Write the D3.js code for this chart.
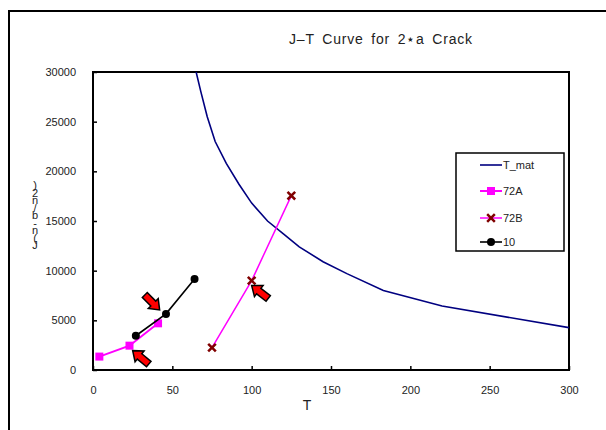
<!DOCTYPE html>
<html>
<head>
<meta charset="utf-8">
<script src="https://cdn.jsdelivr.net/npm/d3@7"></script>
<style>
    body { margin: 0; background: #fff; }
    svg { display: block; font-family: "Liberation Sans", Arial, sans-serif; }
    .axis-label { font-size: 11px; fill: #222; }
</style>
</head>
<body>
<script>
// T_mat material curve
const tmatT = [65, 68, 72, 77, 84, 92, 100, 110, 120, 130, 145, 160, 183, 220, 300];
const tmatJ = [30000, 28000, 25500, 23000, 20800, 18700, 16800, 15000, 13700, 12400, 10900, 9700, 8000, 6450, 4260];

const s72aT = [4, 23, 41];
const s72aJ = [1350, 2450, 4700];

const s72bT = [75, 100, 125];
const s72bJ = [2250, 9000, 17550];

const s10T = [27, 46, 64];
const s10J = [3450, 5650, 9150];

const xTicks = [0, 50, 100, 150, 200, 250, 300];
const yTicks = [0, 5000, 10000, 15000, 20000, 25000, 30000];

// red block arrows: tip position (T, J) and direction in degrees
const arrowT = [42, 25, 100];
const arrowJ = [6050, 1950, 8500];
const arrowAngle = [45, -140, -142];

// y title as it shows in the original: glyphs stacked top to bottom
const yLabel = ")2n/b-n(J";

const zip = (a, b) => a.map((v, i) => [v, b[i]]);

const width = 606, height = 430;
let svg = d3.select("body").append("svg")
    .attr("width", width)
    .attr("height", height);

// outer chart frame (runs off the right and bottom edge)
svg.append("path")
    .attr("d", "M9," + height + "V11H" + width)
    .attr("fill", "none")
    .attr("stroke", "#000")
    .attr("stroke-width", 2);

let xScale = d3.scaleLinear().domain([0, 300]).range([93, 569]);
let yScale = d3.scaleLinear().domain([0, 30000]).range([370, 72]);

svg.append("text")
    .attr("x", 381)
    .attr("y", 44)
    .attr("text-anchor", "middle")
    .style("font-size", "14px")
    .style("letter-spacing", "0.8px")
    .style("word-spacing", "3px")
    .attr("fill", "#222")
    .text("J\u2013T Curve for 2\u22c6a Crack");

let xAxis = d3.axisBottom(xScale).tickValues(xTicks).tickSizeInner(-4).tickSizeOuter(0).tickPadding(16);
svg.append("g")
    .attr("transform", "translate(0," + 370 + ")")
    .call(xAxis)
    .call(g => g.select(".domain").remove())
    .call(g => g.selectAll("text").attr("class", "axis-label").style("font-family", null).style("font-size", null).attr("fill", null))
    .call(g => g.selectAll("line").attr("stroke-width", 1.5));

let yAxis = d3.axisLeft(yScale).tickValues(yTicks).tickFormat(d3.format("d"))
    .tickSizeInner(-4).tickSizeOuter(0).tickPadding(17);
svg.append("g")
    .attr("transform", "translate(" + 93 + ",0)")
    .call(yAxis)
    .call(g => g.select(".domain").remove())
    .call(g => g.selectAll("text").attr("class", "axis-label").style("font-family", null).style("font-size", null).attr("fill", null))
    .call(g => g.selectAll("line").attr("stroke-width", 1.5));

// plot frame
svg.append("rect")
    .attr("x", xScale(0))
    .attr("y", yScale(30000))
    .attr("width", xScale(300) - xScale(0))
    .attr("height", yScale(0) - yScale(30000))
    .attr("fill", "none")
    .attr("stroke", "#000")
    .attr("stroke-width", 2);

svg.append("text")
    .attr("x", 307)
    .attr("y", 410)
    .attr("text-anchor", "middle")
    .style("font-size", "14px")
    .attr("fill", "#222")
    .text("T");

svg.append("text")
    .attr("x", 35)
    .attr("y", 179)
    .style("writing-mode", "vertical-rl")
    .style("text-orientation", "upright")
    .style("letter-spacing", "-4.5px")
    .style("font-size", "11px")
    .attr("fill", "#222")
    .text(yLabel);

svg.append("clipPath").attr("id", "plot-clip")
    .append("rect")
    .attr("x", xScale(0))
    .attr("y", yScale(30000))
    .attr("width", xScale(300) - xScale(0))
    .attr("height", yScale(0) - yScale(30000));

let line = d3.line()
    .x(d => xScale(d[0]))
    .y(d => yScale(d[1]));

let plot = svg.append("g").attr("clip-path", "url(#plot-clip)");

plot.append("path")
    .datum(zip(tmatT, tmatJ))
    .attr("d", line)
    .attr("fill", "none")
    .attr("stroke", "#000080")
    .attr("stroke-width", 1.6);

plot.append("path")
    .datum(zip(s72aT, s72aJ))
    .attr("d", line)
    .attr("fill", "none")
    .attr("stroke", "#ff00ff")
    .attr("stroke-width", 2);
plot.selectAll(".m72a")
    .data(zip(s72aT, s72aJ))
    .enter()
    .append("rect")
        .classed("m72a", true)
        .attr("x", d => xScale(d[0]) - 4)
        .attr("y", d => yScale(d[1]) - 4)
        .attr("width", 8)
        .attr("height", 8)
        .attr("fill", "#ff00ff");

plot.append("path")
    .datum(zip(s72bT, s72bJ))
    .attr("d", line)
    .attr("fill", "none")
    .attr("stroke", "#ff00ff")
    .attr("stroke-width", 1.5);
plot.selectAll(".m72b")
    .data(zip(s72bT, s72bJ))
    .enter()
    .append("path")
        .classed("m72b", true)
        .attr("d", d3.symbol(d3.symbolTimes, 40))
        .attr("transform", d => "translate(" + xScale(d[0]) + "," + yScale(d[1]) + ")")
        .attr("fill", "none")
        .attr("stroke", "#800000")
        .attr("stroke-width", 2.5);

plot.append("path")
    .datum(zip(s10T, s10J))
    .attr("d", line)
    .attr("fill", "none")
    .attr("stroke", "#000")
    .attr("stroke-width", 1.6);
plot.selectAll(".m10")
    .data(zip(s10T, s10J))
    .enter()
    .append("circle")
        .classed("m10", true)
        .attr("cx", d => xScale(d[0]))
        .attr("cy", d => yScale(d[1]))
        .attr("r", 4)
        .attr("fill", "#000");

// annotation arrows, tip at origin pointing along +x
let arrowShape = "M0,0L-9,-7L-9,-3.5L-21,-3.5L-21,3.5L-9,3.5L-9,7Z";
svg.selectAll(".arrow")
    .data(arrowT.map((t, i) => ({t: t, j: arrowJ[i], a: arrowAngle[i]})))
    .enter()
    .append("path")
        .classed("arrow", true)
        .attr("d", arrowShape)
        .attr("transform", d => "translate(" + xScale(d.t) + "," + yScale(d.j) + ") rotate(" + d.a + ")")
        .attr("fill", "#ff0000")
        .attr("stroke", "#000")
        .attr("stroke-width", 1.5)
        .attr("stroke-linejoin", "miter");

// legend
let legend = svg.append("g").attr("transform", "translate(456,153)");
legend.append("rect")
    .attr("width", 108)
    .attr("height", 98)
    .attr("fill", "#fff")
    .attr("stroke", "#000")
    .attr("stroke-width", 1.5);

let legendItems = [
    {name: "T_mat", color: "#000080", width: 1.6, marker: null},
    {name: "72A", color: "#ff00ff", width: 2, marker: "square"},
    {name: "72B", color: "#ff00ff", width: 1.5, marker: "times"},
    {name: "10", color: "#000", width: 1.6, marker: "circle"}
];
let legendY = [12, 38, 65, 89];

legendItems.forEach((it, i) => {
    let g = legend.append("g").attr("transform", "translate(0," + legendY[i] + ")");
    g.append("line")
        .attr("x1", 24).attr("x2", 46)
        .attr("stroke", it.color)
        .attr("stroke-width", it.width);
    if (it.marker === "square") {
        g.append("rect").attr("x", 31).attr("y", -4).attr("width", 8).attr("height", 8).attr("fill", it.color);
    } else if (it.marker === "times") {
        g.append("path").attr("d", d3.symbol(d3.symbolTimes, 40)).attr("transform", "translate(35,0)")
            .attr("fill", "none").attr("stroke", "#800000").attr("stroke-width", 2.5);
    } else if (it.marker === "circle") {
        g.append("circle").attr("cx", 35).attr("r", 4).attr("fill", it.color);
    }
    g.append("text")
        .attr("x", 47)
        .attr("y", 4)
        .attr("class", "axis-label")
        .text(it.name);
});
</script>
</body>
</html>
